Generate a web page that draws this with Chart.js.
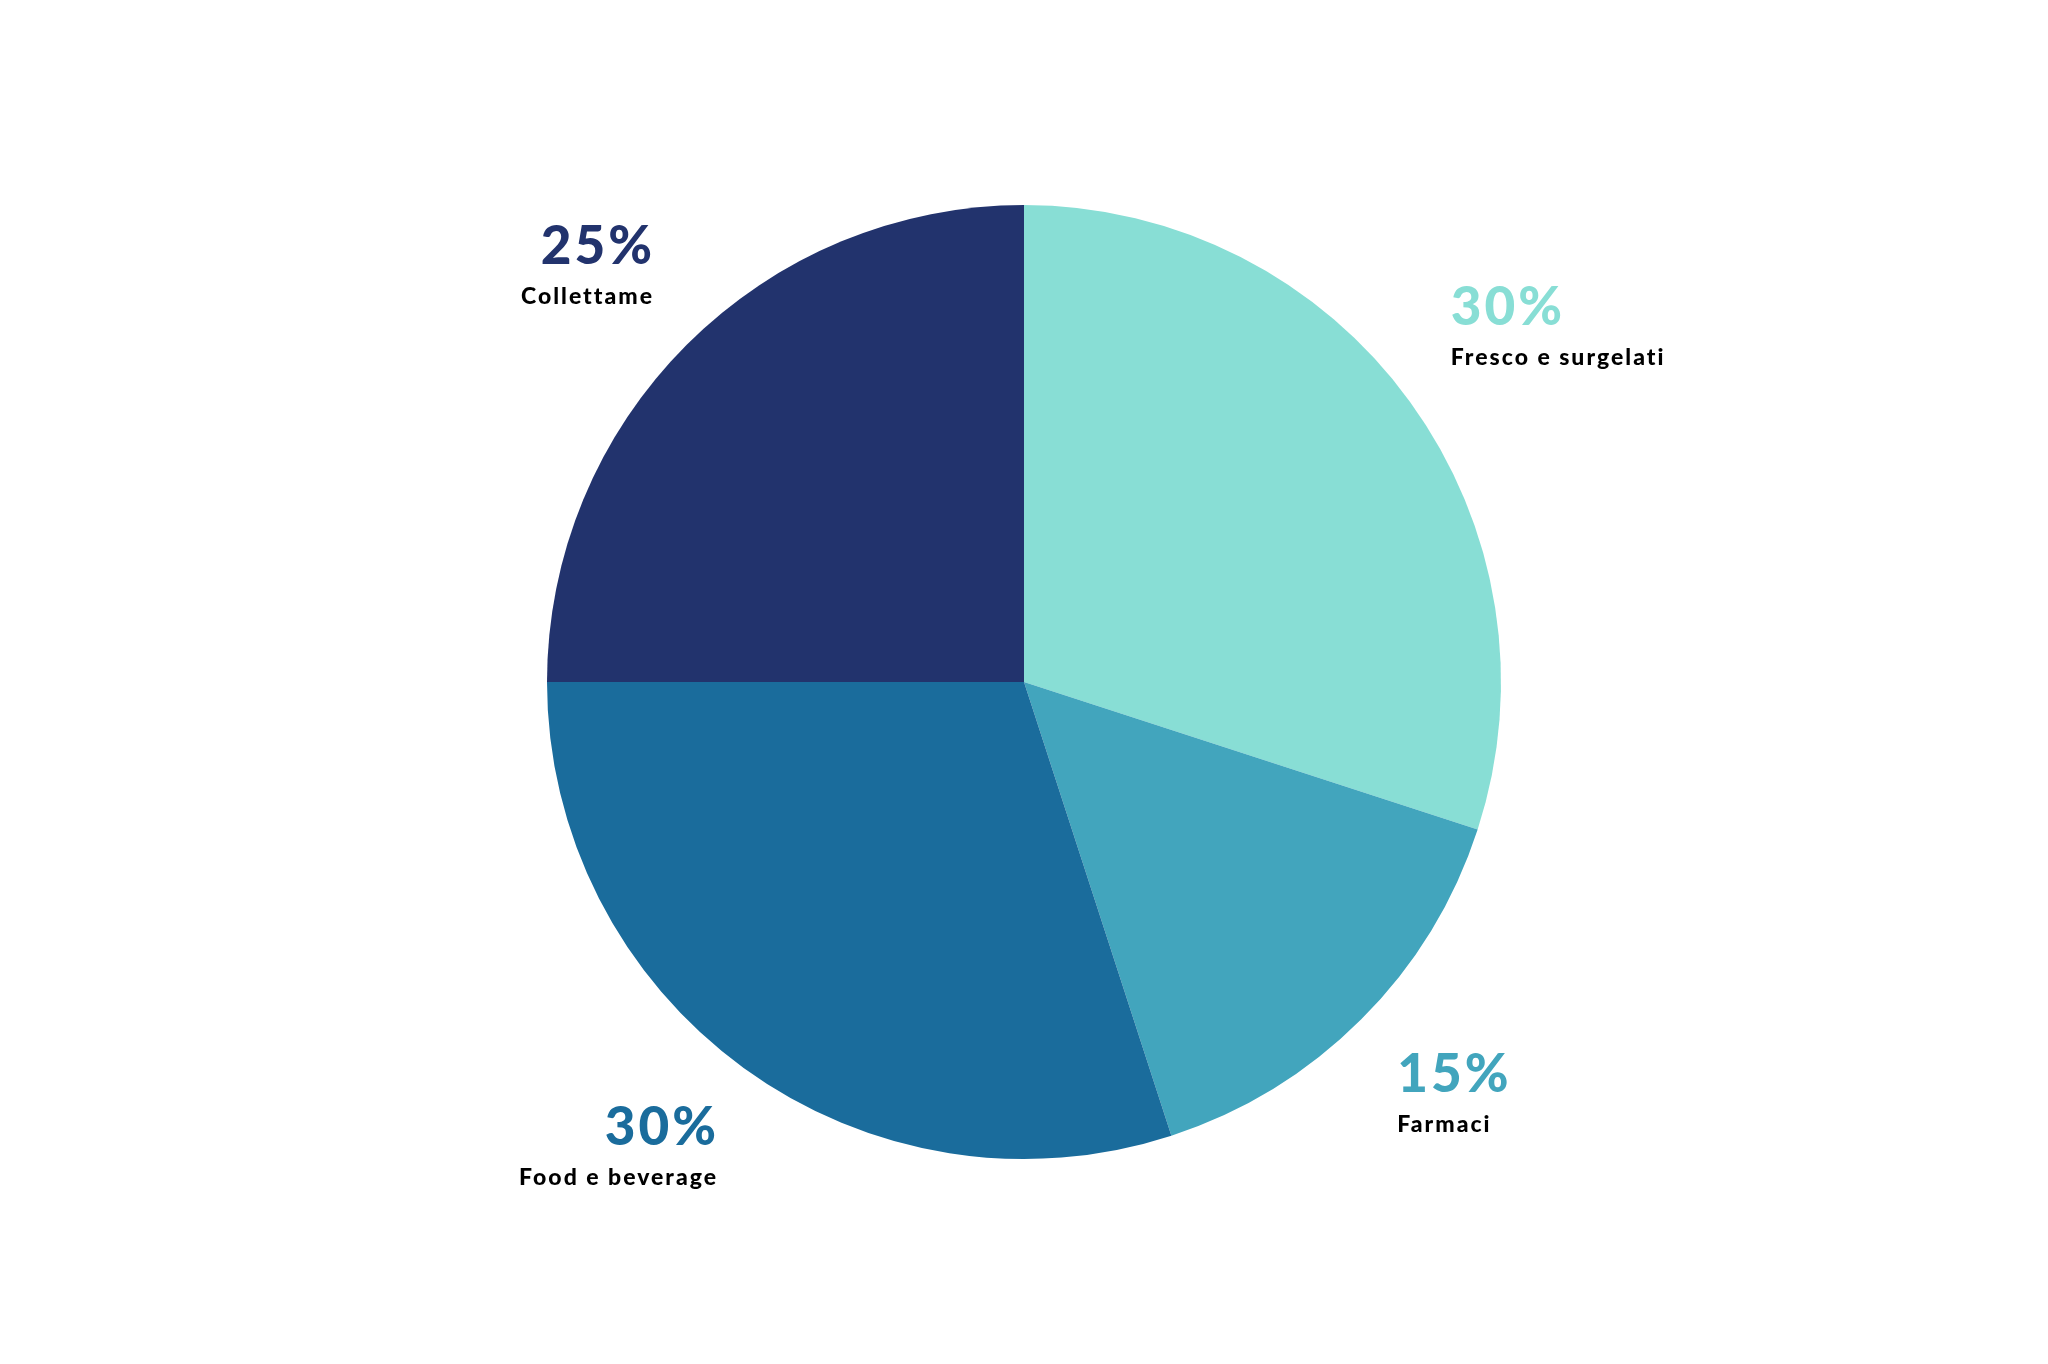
<!DOCTYPE html>
<html>
<head>
<meta charset="utf-8">
<script src="https://cdn.jsdelivr.net/npm/chart.js@4.4.0/dist/chart.umd.min.js"></script>
<style>
html,body{margin:0;padding:0;background:#fff;}
#wrap{width:2048px;height:1364px;position:relative;}
</style>
</head>
<body>
<div id="wrap"><canvas id="c" width="2048" height="1364"></canvas></div>
<script>
const categories = ["Fresco e surgelati", "Farmaci", "Food e beverage", "Collettame"];
const values = [30, 15, 30, 25];
const percentLabels = ["30%", "15%", "30%", "25%"];
const colors = ["#88ded5", "#42a5bd", "#1a6c9c", "#22336d"];

// label anchor offsets relative to pie centre, in units of radius; align side
const labelPlacement = [
  {dx: 0.8946, dy: -0.748, align: "left"},
  {dx: 0.7826, dy: 0.859, align: "left"},
  {dx: -0.6457, dy: 0.970, align: "right"},
  {dx: -0.7799, dy: -0.876, align: "right"}
];

function drawSpaced(ctx, text, x, y, spacing, align) {
  ctx.letterSpacing = spacing + "px";
  // canvas adds trailing spacing after the last glyph; compensate for right alignment
  const xx = align === "right" ? x + spacing : x;
  ctx.fillText(text, xx, y);
  ctx.letterSpacing = "0px";
}

const labelPlugin = {
  id: "sliceLabels",
  afterDatasetsDraw(chart) {
    const ctx = chart.ctx;
    const meta = chart.getDatasetMeta(0);
    meta.data.forEach((arc, i) => {
      const p = labelPlacement[i];
      const x = arc.x + p.dx * arc.outerRadius;
      const y = arc.y + p.dy * arc.outerRadius;
      ctx.save();
      ctx.textAlign = p.align;
      ctx.textBaseline = "alphabetic";
      ctx.fillStyle = colors[i];
      ctx.font = "900 53px Lato";
      drawSpaced(ctx, percentLabels[i], x, y, 3, p.align);
      ctx.fillStyle = "#000000";
      ctx.font = "900 23px Lato";
      drawSpaced(ctx, categories[i], x, y + 40, 2, p.align);
      ctx.restore();
    });
  }
};

new Chart(document.getElementById("c"), {
  type: "pie",
  data: {
    labels: categories,
    datasets: [{
      data: values,
      backgroundColor: colors,
      borderWidth: 0,
      hoverOffset: 0
    }]
  },
  options: {
    responsive: false,
    animation: false,
    rotation: 0,
    layout: {padding: {top: 205, bottom: 205, left: 0, right: 0}},
    plugins: {
      legend: {display: false},
      tooltip: {enabled: false}
    }
  },
  plugins: [labelPlugin]
});
</script>
</body>
</html>
